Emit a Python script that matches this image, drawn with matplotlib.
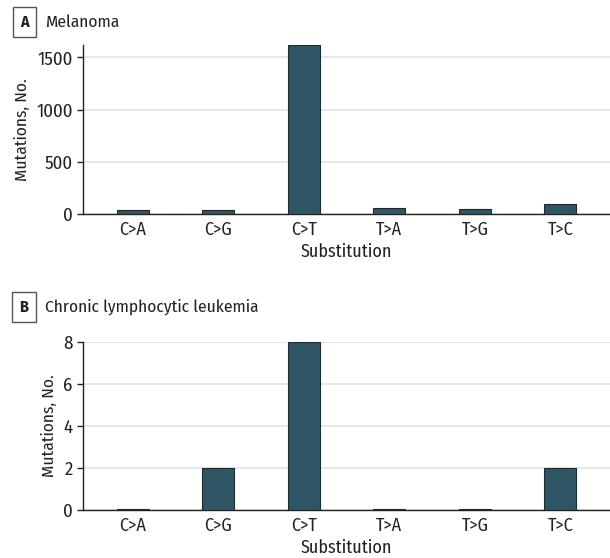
import matplotlib.pyplot as plt

subs = ["C>A", "C>G", "C>T", "T>A", "T>G", "T>C"]
melanoma = [40, 40, 1615, 55, 45, 95]
cll = [0.05, 2, 8, 0.05, 0.05, 2]

plt.rcParams['font.family'] = ['Fira Sans Condensed', 'DejaVu Sans']
plt.rcParams['font.size'] = 12

bar_col = "#2e5563"
edge_col = "#1c2a30"
text_col = "#222222"

fig = plt.figure(figsize=(6.1, 5.58), dpi=100)
ax_a = fig.add_axes([0.136, 0.6165, 0.864, 0.3029])
ax_b = fig.add_axes([0.136, 0.086, 0.864, 0.3016])


def style(ax, vals, ymax, ticks):
    x = range(len(subs))
    ax.bar(x, vals, width=0.373, color=bar_col, edgecolor=edge_col, linewidth=0.8, zorder=3)
    ax.set_xlim(-0.58, 5.58)
    ax.set_ylim(0, ymax)
    ax.set_yticks(ticks)
    ax.set_xticks(list(x))
    ax.set_xticklabels(subs)
    ax.grid(axis="y", color="#e3e3e3", linewidth=1.2, zorder=0)
    for s in ["top", "right"]:
        ax.spines[s].set_visible(False)
    for s in ["left", "bottom"]:
        ax.spines[s].set_color(text_col)
        ax.spines[s].set_linewidth(1.0)
    ax.tick_params(axis="x", length=0, pad=5, colors=text_col, labelsize=13)
    ax.tick_params(axis="y", length=4, width=1, colors=text_col, labelsize=13.5)
    ax.set_xlabel("Substitution", fontsize=13, color=text_col, labelpad=3)
    ax.set_ylabel("Mutations, No.", fontsize=12.5, color=text_col)


style(ax_a, melanoma, 1620, [0, 500, 1000, 1500])
style(ax_b, cll, 8, [0, 2, 4, 6, 8])
ax_a.yaxis.set_label_coords(-0.1006, 0.5)
ax_b.yaxis.set_label_coords(-0.049, 0.5)


def panel(y, letter, title):
    fig.text(24 / 610, y, letter, ha="center", va="center", fontsize=11.5, fontweight="bold",
             color=text_col,
             bbox=dict(boxstyle="square,pad=0.45", facecolor="white", edgecolor="#555555", linewidth=1))
    fig.text(45 / 610, y, title, ha="left", va="center", fontsize=12.5, color=text_col)


panel(1 - 22 / 558, "A", "Melanoma")
panel(1 - 307 / 558, "B", "Chronic lymphocytic leukemia")

fig.savefig("out.png", dpi=100)
